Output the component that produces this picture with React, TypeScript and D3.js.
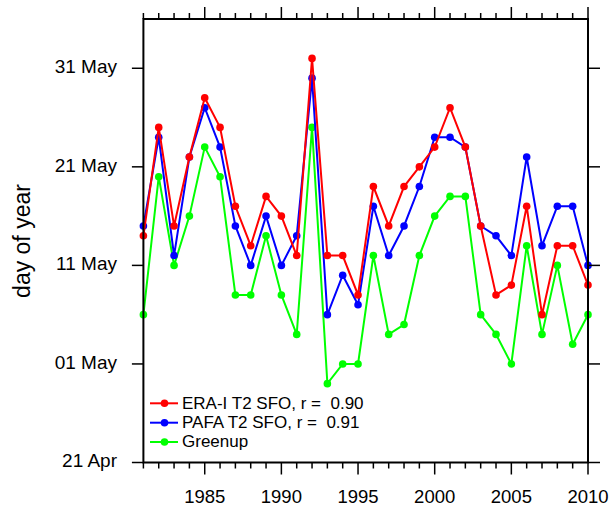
import React from "react";
import * as d3 from "d3";

// day-of-year values (non-leap year, 111 = 21 Apr)
const years = d3.range(1981, 2011);
const eraT2 = [
	134, 145, 135, 142, 148, 145, 137, 133, 138, 136, 132, 152, 132, 132, 128,
	139, 135, 139, 141, 143, 147, 143, 135, 128, 129, 137, 126, 133, 133, 129,
];
const pafaT2 = [
	135, 144, 132, 142, 147, 143, 135, 131, 136, 131, 134, 150, 126, 130, 127,
	137, 132, 135, 139, 144, 144, 143, 135, 134, 132, 142, 133, 137, 137, 131,
];
const greenup = [
	126, 140, 131, 136, 143, 140, 128, 128, 134, 128, 124, 145, 119, 121, 121,
	132, 124, 125, 132, 136, 138, 138, 126, 124, 121, 133, 124, 131, 123, 126,
];
const seriesNames = ["ERA-I T2 SFO, r =  0.90", "PAFA T2 SFO, r =  0.91", "Greenup"];
const seriesColors = ["#ff0000", "#0000ff", "#00ff00"];
const yTicks = [111, 121, 131, 141, 151];
const xMajor = [1985, 1990, 1995, 2000, 2005, 2010];

const width = 610;
const height = 510;
const plot = { left: 143.4, right: 588, top: 19, bottom: 462.5 };
const font = "'Liberation Sans', Arial, Helvetica, sans-serif";

const App = () => {
	const x = d3.scaleLinear().domain([1981, 2010]).range([plot.left, plot.right]);
	const y = d3.scaleLinear().domain([111, 156]).range([plot.bottom, plot.top]);
	const fmt = d3.utcFormat("%d %b");
	const doyLabel = (d: number) => fmt(new Date(Date.UTC(2001, 0, d)));

	const line = d3
		.line<number>()
		.x((d, i) => x(years[i]))
		.y((d) => y(d));

	// draw order: greenup under, ERA-I on top
	const series = [
		{ values: greenup, color: seriesColors[2] },
		{ values: pafaT2, color: seriesColors[1] },
		{ values: eraT2, color: seriesColors[0] },
	];

	const legendRows = [403.3, 422.7, 442];

	return (
		<svg
			width={width}
			height={height}
			style={{ position: "absolute", left: 0, top: 0, background: "#fff" }}
			fontFamily={font}
		>
			{series.map((s, k) => (
				<g key={k}>
					<path d={line(s.values) || ""} fill="none" stroke={s.color} strokeWidth={2} />
					{s.values.map((v, i) => (
						<circle key={i} cx={x(years[i])} cy={y(v)} r={3.8} fill={s.color} />
					))}
				</g>
			))}

			{/* frame */}
			<rect
				x={plot.left}
				y={plot.top}
				width={plot.right - plot.left}
				height={plot.bottom - plot.top}
				fill="none"
				stroke="#000"
				strokeWidth={2}
			/>

			{/* x ticks, top and bottom, outward */}
			{years.map((yr) => {
				const len = xMajor.includes(yr) ? 12 : 6;
				return (
					<g key={yr} stroke="#000" strokeWidth={1.5}>
						<line x1={x(yr)} x2={x(yr)} y1={plot.bottom} y2={plot.bottom + len} />
						<line x1={x(yr)} x2={x(yr)} y1={plot.top} y2={plot.top - len} />
					</g>
				);
			})}
			{xMajor.map((yr) => (
				<text key={yr} x={x(yr)} y={503} fontSize={18.5} textAnchor="middle">
					{yr}
				</text>
			))}

			{/* y ticks, left and right, outward */}
			{yTicks.map((d) => (
				<g key={d}>
					<line x1={plot.left - 11.5} x2={plot.left} y1={y(d)} y2={y(d)} stroke="#000" strokeWidth={1.5} />
					<line x1={plot.right} x2={plot.right + 12} y1={y(d)} y2={y(d)} stroke="#000" strokeWidth={1.5} />
					<text x={117} y={y(d) + 4.8} fontSize={19} textAnchor="end">
						{doyLabel(d)}
					</text>
				</g>
			))}

			<text
				transform="translate(30,241) rotate(-90)"
				fontSize={23}
				textAnchor="middle"
			>
				day of year
			</text>

			{/* legend */}
			{legendRows.map((ly, k) => (
				<g key={k}>
					<line x1={150} x2={178} y1={ly} y2={ly} stroke={seriesColors[k]} strokeWidth={2} />
					<circle cx={164.5} cy={ly} r={3.8} fill={seriesColors[k]} />
					<text x={182} y={ly + 5.3} fontSize={17} style={{ whiteSpace: "pre" }}>
						{seriesNames[k]}
					</text>
				</g>
			))}
		</svg>
	);
};

export default App;
